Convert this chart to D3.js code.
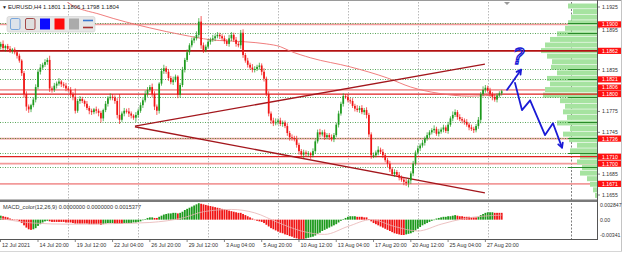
<!DOCTYPE html>
<html>
<head>
<meta charset="utf-8">
<script src="https://cdn.jsdelivr.net/npm/d3@7"></script>
<style>
body{margin:0;background:#fff;}
svg{display:block;font-family:"Liberation Sans",Arial,sans-serif;}
</style>
</head>
<body>
<div id="chart"></div>
<script>
// EURUSD H4 candles, 12 Jul 2021 00:00 .. 31 Aug 2021 00:00 (open of a bar = previous close)
var firstOpen = 1.1870;
var closes = [
 1.1868,1.1872,1.1866,1.1869,1.1865,1.1862,1.1864,1.1860,1.1855,
 1.1848,1.1830,1.1800,1.1782,
 1.1778,1.1784,1.1792,1.1810,
 1.1832,1.1838,1.1842,1.1846,1.1849,
 1.1808,
 1.1806,1.1812,1.1815,1.1818,1.1814,1.1812,1.1808,1.1806,1.1800,
 1.1796,1.1776,
 1.1790,1.1793,1.1790,1.1786,1.1780,1.1776,1.1774,1.1778,1.1776,1.1773,1.1765,
 1.1777,1.1786,1.1794,1.1796,1.1795,
 1.1790,1.1770,1.1763,1.1772,
 1.1776,1.1775,1.1772,1.1769,1.1766,1.1770,1.1776,
 1.1784,1.1791,1.1800,1.1806,1.1810,
 1.1800,1.1782,
 1.1776,
 1.1815,1.1833,1.1837,
 1.1832,1.1823,1.1817,1.1820,1.1825,
 1.1799,
 1.1813,1.1835,1.1849,1.1860,1.1870,1.1877,1.1880,1.1885,
 1.1904,
 1.1870,
 1.1863,1.1868,1.1875,1.1878,1.1880,1.1883,1.1885,1.1883,1.1880,1.1876,1.1872,1.1880,1.1885,1.1878,1.1872,1.1870,
 1.1888,
 1.1856,
 1.1848,1.1842,1.1838,1.1835,1.1836,1.1839,1.1841,1.1832,1.1822,
 1.1800,1.1772,1.1762,
 1.1758,1.1760,1.1762,1.1757,1.1759,1.1754,1.1744,
 1.1738,1.1737,1.1735,1.1727,1.1718,
 1.1713,1.1716,1.1714,1.1715,1.1712,1.1718,
 1.1732,1.1745,1.1742,1.1745,1.1738,1.1741,1.1738,1.1735,1.1741,
 1.1756,1.1772,1.1786,1.1797,1.1796,
 1.1791,1.1790,1.1783,1.1779,1.1777,1.1780,1.1774,1.1777,1.1770,
 1.1742,1.1712,
 1.1712,1.1716,1.1720,1.1717,1.1712,1.1705,1.1700,1.1692,
 1.1685,1.1688,1.1684,1.1680,1.1677,1.1674,1.1672,1.1676,1.1686,
 1.1700,1.1716,1.1722,1.1726,1.1730,1.1736,1.1741,1.1745,1.1748,
 1.1750,1.1743,1.1746,1.1749,1.1752,1.1747,1.1756,1.1765,1.1770,
 1.1774,1.1767,1.1764,1.1762,1.1760,1.1756,1.1752,1.1750,1.1748,1.1754,1.1763,
 1.1800,
 1.1806,1.1809,1.1805,1.1800,1.1796,1.1792,1.1798,1.1801,1.1804
];
// wick length above / below the body, in pips
var wickUp = [
 4,3,5,2,3,4,2,3,2,3, 2,3,4,3,2,3,4,3,5,3, 4,3,6,3,4,3,5,2,3,4, 3,4,3,12,3,4,3,2,4,3,
 3,2,4,3,3,2,4,3,5,4, 3,4,30,3,4,3,5,3,2,4, 3,4,3,5,4,3,5,4,3,2, 4,5,3,4,3,5,3,2,3,4,
 3,4,3,4,3,5,5,8,4,3, 4,3,5,3,4,3,3,4,3,5, 4,3,4,3,4,5,3,4,3,5, 4,3,4,3,5,3,4,3,4,5,
 3,4,3,3,4,3,4,3,5,3, 3,4,3,3,2,4,3,4,5,3, 4,3,3,4,3,3,4,3,4,3, 4,3,4,3,5,3,4,3,4,3,
 3,4,3,5,3,4,3,3,4,3, 4,3,4,3,3,4,3,3,4,3, 4,3,4,3,4,3,3,5,3,4, 3,4,3,4,3,5,4,3,4,3,
 3,4,3,4,3,3,4,3,5,4, 3,4,3,4,3,3,2
];
var wickDn = [
 3,4,3,5,4,3,4,3,4,3, 4,5,6,5,4,3,4,3,4,3, 3,4,5,4,3,4,3,4,3,4, 3,4,5,4,3,4,3,4,3,5,
 4,3,4,5,6,4,3,4,3,4, 4,5,6,3,4,3,5,4,3,6, 4,3,4,3,4,3,4,5,6,4, 3,4,3,4,3,4,3,5,4,3,
 4,3,4,3,4,3,4,5,4,3, 3,4,3,4,3,4,3,4,3,4, 4,3,4,3,5,4,3,4,3,4, 4,3,4,5,4,3,4,5,4,3,
 4,3,4,3,4,5,4,3,4,5, 4,5,3,4,5,3,4,3,4,3, 4,3,4,3,4,3,4,3,4,3, 3,4,3,4,3,4,3,4,5,4,
 5,4,3,4,3,4,3,5,4,3, 4,3,4,3,5,4,6,5,4,3, 3,4,3,4,3,4,3,4,3,4, 3,4,3,4,3,4,3,4,3,4,
 4,3,4,3,4,3,4,5,3,4, 3,4,5,3,4,3,3
];
// MACD_color histogram, units of 0.0001
var macdHist = [
 6,7,6,5,4, 2,1,0,-1, -3,-6,-10,-14, -17,-18,-17,-15, -11,-8,-5,-3,-2,
 -3,-4,-4,-4,-4,-4,-4,-5,-5,-5,-6,-7,
 -7,-7,-7,-7,-7,-8,-8,-8,-8,-8,-9,
 -8,-7,-6,-6,-6,-7,-7,-7,-7,-6,-6,
 -6,-6,-5,-5,-4, -3,-1,1,3,4, 4,3,3,
 5,7,9,10,11,11,12,12, 11,
 12,14,17,19,21,23,25,27, 29,28,
 27,26,25,24,23,22,21,20,19,18,17,16,15,14,13,12, 12,10,
 8,6,4,2,0,-2,-3,-4,-6, -9,-12,-15,
 -17,-19,-21,-23,-24,-26,-27, -29,-30,-32,-33,-34,
 -34,-34,-33,-32,-31,-30, -28,-25,-23,-20,-18,-16,-14,-12,-10,
 -8,-5,-2,1,3, 5,6,6,6,5,5,5,4,4, 1,-3,
 -6,-8,-10,-12,-14,-16,-18,-20, -22,-24,-25,-26,-27,-27,-26,-25,-24,
 -22,-19,-16,-13,-10,-8,-6,-4,-2, 0,2,3,4,5,5,6,6,7,
 8,7,6,6,5,5,5,4,4,4,5, 8, 10,12,13,13,13,12,12,12,12
];
// signal line read at a few bars [bar, value x 0.0001]
var macdSignal = [[0,3],[15,-6],[30,-8],[50,-7],[65,-5],[80,4],[88,14],[100,18],[110,12],[120,-5],
  [130,-20],[140,-26],[150,-12],[160,0],[170,-12],[180,-20],[190,-8],[200,2],[216,8]];
// moving average [bar, price]
var maPoints = [[28,1.1938],[30,1.1931],[44,1.1914],[65,1.1895],[79,1.1885],[91,1.1878],[106,1.1875],
  [115,1.1872],[121,1.1868],[125,1.1862],[134,1.1852],[151,1.1839],[167,1.1823],[177,1.1810],
  [189,1.1801],[202,1.1797],[216,1.1799]];
var timeBars = [0,17,33,49,65,81,97,113,129,145,161,177,193,209];
var timeLabels = ["12 Jul 2021","14 Jul 20:00","19 Jul 12:00","22 Jul 04:00","26 Jul 20:00","29 Jul 12:00",
  "3 Aug 04:00","5 Aug 20:00","10 Aug 12:00","13 Aug 04:00","17 Aug 20:00","20 Aug 12:00","25 Aug 04:00","27 Aug 20:00"];
var gridBars = [30,60,90,120,150,180,210];
var priceTicks = [1.1925,1.1895,1.1835,1.1775,1.1745,1.1685,1.1655];
var tagLevels = [1.1900,1.1862,1.1821,1.1806,1.1800,1.1736,1.1710,1.1700,1.1671];
var strongLevels = [1.1862,1.1800,1.1710];
var lightLevels = [1.1900,1.1806,1.1736,1.1700,1.1671];
var dotLevels = [1.1902,1.1888,1.1836,1.1822,1.1796,1.1760,1.1737,1.1715,1.1695];
var trendLines = [[58.6,1.1754,208.8,1.1843],[58.6,1.1753,208.8,1.1658]];
// volume profile, one value per 0.0008 bin from 1.1930 down
var profileTop = 1.1930, profileStep = 0.0008;
var profileVol = [29,24,26,29,32,40,47,52,56,50,45,46,40,50,47,52,54,37,32,34,30,40,27,34,28,20,27,17,20,15,17,10,7,4,2];
// hand drawn forecast [bar, price]
var arrowUp = [[218.3,1.1806],[224.3,1.1835]];
var arrowDown = [[221.7,1.1816],[224.7,1.1777],[228.2,1.1791],[234.6,1.1741],[238,1.1758],[241.9,1.1723]];
var questionAt = [223.2,1.1843];
var header = "EURUSD,H4  1.1801 1.1806 1.1798 1.1804";
var macdTitle = "MACD_color(12,26,9) 0.0000000 0.0000000 0.0015377";
var macdTicks = [[28.47,"0.002847"],[0,"0.00"],[-34.1,"-0.00341"]];

var width = 625, height = 256;
var plotRight = 597, plotTop = 2, plotBottom = 200;
var macdTop = 203, macdBottom = 239;
var green = "#1d9a1d", red = "#f01414";
var tagH = 6.2;

var svg = d3.select("#chart").append("svg")
	.attr("width", width)
	.attr("height", height);

var xScale = d3.scaleLinear().domain([0, 216]).range([-1.6, 501.7]);
var yScale = d3.scaleLinear().domain([1.1655, 1.1925]).range([195, 7]);
var mScale = d3.scaleLinear().domain([-34.1, 28.47]).range([239, 203.5]);
var vScale = d3.scaleLinear().domain([0, 56]).range([0, 56]);

var defs = svg.append("defs");
defs.append("clipPath").attr("id", "mainClip").append("rect")
	.attr("x", 0).attr("y", plotTop).attr("width", plotRight).attr("height", plotBottom - plotTop);
defs.append("clipPath").attr("id", "macdClip").append("rect")
	.attr("x", 0).attr("y", macdTop).attr("width", plotRight).attr("height", macdBottom - macdTop);

var main = svg.append("g").attr("clip-path", "url(#mainClip)");
var macd = svg.append("g").attr("clip-path", "url(#macdClip)");

// vertical grid (main + macd)
[[main, plotTop, plotBottom], [macd, macdTop, macdBottom]].forEach(function(p){
	p[0].selectAll(null).data(gridBars).enter().append("line")
		.attr("x1", function(d){ return Math.round(xScale(d)) + 0.5; })
		.attr("x2", function(d){ return Math.round(xScale(d)) + 0.5; })
		.attr("y1", p[1]).attr("y2", p[2])
		.attr("stroke", "#a8a8a8").attr("stroke-width", 0.8)
		.attr("stroke-dasharray", "1.5,1.5");
	p[0].append("line")
		.attr("x1", 571.5).attr("x2", 571.5).attr("y1", p[1]).attr("y2", p[2])
		.attr("stroke", "#707070").attr("stroke-width", 0.9)
		.attr("stroke-dasharray", "2,1.5");
});

// light red levels (under the profile)
main.selectAll(null).data(lightLevels).enter().append("line")
	.attr("x1", 0).attr("x2", plotRight)
	.attr("y1", function(d){ return yScale(d); })
	.attr("y2", function(d){ return yScale(d); })
	.attr("stroke", "#f29a9a").attr("stroke-width", 1.6);

// volume profile, right aligned to the price axis
main.selectAll(null).data(profileVol).enter().append("rect")
	.attr("x", function(d){ return plotRight - vScale(d); })
	.attr("y", function(d, k){ return yScale(profileTop - profileStep*k); })
	.attr("width", function(d){ return vScale(d); })
	.attr("height", function(d, k){ return yScale(profileTop - profileStep*(k+1)) - yScale(profileTop - profileStep*k) - 0.6; })
	.attr("fill", "#a6e3a0");

// green dotted levels, solid inside the profile zone
main.selectAll(null).data(dotLevels).enter().append("line")
	.attr("x1", 0).attr("x2", plotRight)
	.attr("y1", function(d){ return Math.round(yScale(d)) + 0.5; })
	.attr("y2", function(d){ return Math.round(yScale(d)) + 0.5; })
	.attr("stroke", "#2f8f2f").attr("stroke-width", 0.8)
	.attr("stroke-dasharray", "1,1.5");
main.selectAll(null).data(dotLevels).enter().append("line")
	.attr("x1", 568).attr("x2", plotRight)
	.attr("y1", function(d){ return Math.round(yScale(d)) + 0.5; })
	.attr("y2", function(d){ return Math.round(yScale(d)) + 0.5; })
	.attr("stroke", "#2a8a2a").attr("stroke-width", 1);

// strong red levels
main.selectAll(null).data(strongLevels).enter().append("line")
	.attr("x1", 0).attr("x2", plotRight)
	.attr("y1", function(d){ return yScale(d); })
	.attr("y2", function(d){ return yScale(d); })
	.attr("stroke", function(d, i){ return i == 0 ? "#b31212" : "#e02020"; })
	.attr("stroke-width", function(d, i){ return i == 0 ? 1.6 : 1.2; });

// moving average
main.append("path")
	.datum(maPoints)
	.attr("d", d3.line().curve(d3.curveMonotoneX)
		.x(function(d){ return xScale(d[0]); })
		.y(function(d){ return yScale(d[1]); }))
	.attr("fill", "none").attr("stroke", "#ee6f6f").attr("stroke-width", 0.9);

// trend lines
main.selectAll(null).data(trendLines).enter().append("line")
	.attr("x1", function(d){ return xScale(d[0]); })
	.attr("y1", function(d){ return yScale(d[1]); })
	.attr("x2", function(d){ return xScale(d[2]); })
	.attr("y2", function(d){ return yScale(d[3]); })
	.attr("stroke", "#a3161c").attr("stroke-width", 1.3);

// candles
var candles = closes.map(function(c, i){
	var o = i == 0 ? firstOpen : closes[i-1];
	return {i:i, o:o, c:c,
		h: Math.max(o, c) + wickUp[i]*0.0001,
		l: Math.min(o, c) - wickDn[i]*0.0001};
});
var cg = main.append("g");
cg.selectAll(null).data(candles).enter().append("line")
	.attr("x1", function(d){ return xScale(d.i); })
	.attr("x2", function(d){ return xScale(d.i); })
	.attr("y1", function(d){ return yScale(d.h); })
	.attr("y2", function(d){ return yScale(d.l); })
	.attr("stroke", function(d){ return d.c >= d.o ? green : red; })
	.attr("stroke-width", 0.7);
cg.selectAll(null).data(candles).enter().append("rect")
	.attr("x", function(d){ return xScale(d.i) - 0.85; })
	.attr("width", 1.7)
	.attr("y", function(d){ return yScale(Math.max(d.o, d.c)); })
	.attr("height", function(d){ return Math.max(1, Math.abs(yScale(d.o) - yScale(d.c))); })
	.attr("fill", function(d){ return d.c >= d.o ? green : red; });

// hand drawn forecast
var blue = "#1a1ad6";
var fline = d3.line().x(function(d){ return xScale(d[0]); }).y(function(d){ return yScale(d[1]); });
main.append("path").datum(arrowUp).attr("d", fline)
	.attr("fill", "none").attr("stroke", blue).attr("stroke-width", 1.8).attr("stroke-linecap", "round");
main.append("path").datum(arrowDown).attr("d", fline)
	.attr("fill", "none").attr("stroke", blue).attr("stroke-width", 1.8)
	.attr("stroke-linejoin", "round").attr("stroke-linecap", "round");
function arrowHead(pts){
	var a = pts[pts.length-2], b = pts[pts.length-1];
	var x1 = xScale(a[0]), y1 = yScale(a[1]), x2 = xScale(b[0]), y2 = yScale(b[1]);
	var ang = Math.atan2(y2 - y1, x2 - x1), len = 5;
	var p1 = [x2 - len*Math.cos(ang - 0.5), y2 - len*Math.sin(ang - 0.5)];
	var p2 = [x2 - len*Math.cos(ang + 0.5), y2 - len*Math.sin(ang + 0.5)];
	main.append("path")
		.attr("d", "M" + p1[0] + "," + p1[1] + "L" + x2 + "," + y2 + "L" + p2[0] + "," + p2[1])
		.attr("fill", "none").attr("stroke", blue).attr("stroke-width", 1.8)
		.attr("stroke-linecap", "round").attr("stroke-linejoin", "round");
}
arrowHead(arrowUp);
arrowHead(arrowDown);
main.append("text")
	.attr("x", xScale(questionAt[0])).attr("y", yScale(questionAt[1]))
	.attr("text-anchor", "middle")
	.attr("font-family", "DejaVu Sans")
	.attr("font-size", "22px").attr("font-style", "italic")
	.attr("fill", "none").attr("stroke", blue).attr("stroke-width", 1.4)
	.text("?");

// chart shift marker
svg.append("path").attr("d", "M504,2L510,2L507,5Z").attr("fill", "#9a9a9a");

// macd histogram
var prevColor = green;
var bars = macdHist.map(function(v, i){
	if(i > 0 && v > macdHist[i-1]) prevColor = green;
	else if(i > 0 && v < macdHist[i-1]) prevColor = red;
	return {i:i, v:v, col:prevColor};
});
macd.selectAll(null).data(bars).enter().append("rect")
	.attr("x", function(d){ return xScale(d.i) - 0.9; })
	.attr("width", 1.8)
	.attr("y", function(d){ return Math.min(mScale(d.v), mScale(0)); })
	.attr("height", function(d){ return Math.max(0.5, Math.abs(mScale(d.v) - mScale(0))); })
	.attr("fill", function(d){ return d.col; });
macd.append("path")
	.datum(macdSignal)
	.attr("d", d3.line().curve(d3.curveMonotoneX)
		.x(function(d){ return xScale(d[0]); })
		.y(function(d){ return mScale(d[1]); }))
	.attr("fill", "none").attr("stroke", "#e7b3b3").attr("stroke-width", 0.8);

// frames
svg.append("line").attr("x1", 0).attr("x2", 622).attr("y1", 0.5).attr("y2", 0.5).attr("stroke", "#9a9a9a");
svg.append("rect").attr("x", 0).attr("y", 199.5).attr("width", plotRight).attr("height", 2.5).attr("fill", "#7a7a7a");
svg.append("line").attr("x1", 0).attr("x2", plotRight + 1).attr("y1", macdBottom + 0.5).attr("y2", macdBottom + 0.5)
	.attr("stroke", "#555").attr("stroke-width", 1);
svg.append("line").attr("x1", plotRight + 0.5).attr("x2", plotRight + 0.5).attr("y1", 0).attr("y2", macdBottom + 1)
	.attr("stroke", "#555").attr("stroke-width", 1);
svg.append("line").attr("x1", 621.5).attr("x2", 621.5).attr("y1", 0).attr("y2", 252)
	.attr("stroke", "#c4c4c4").attr("stroke-width", 1);
svg.append("line").attr("x1", 0).attr("x2", 622).attr("y1", 251.5).attr("y2", 251.5)
	.attr("stroke", "#d6d6d6").attr("stroke-width", 1);

// red price tags, pushed apart upwards where they would collide
var tagPos = tagLevels.map(function(d){ return {p:d, y:yScale(d)}; });
for(var k = tagPos.length - 2; k >= 0; k--){
	if(tagPos[k].y > tagPos[k+1].y - tagH - 0.3) tagPos[k].y = tagPos[k+1].y - tagH - 0.3;
}

// price axis (a plain label gives way below a tag it would touch)
var axisG = svg.append("g").attr("font-size", "5.2px").attr("fill", "#333");
axisG.selectAll(null).data(priceTicks).enter().append("line")
	.attr("x1", plotRight).attr("x2", plotRight + 3)
	.attr("y1", function(d){ return yScale(d); }).attr("y2", function(d){ return yScale(d); })
	.attr("stroke", "#555").attr("stroke-width", 0.7);
axisG.selectAll(null).data(priceTicks).enter().append("text")
	.attr("x", 602)
	.attr("y", function(d){
		var y = yScale(d) + 2;
		tagPos.forEach(function(t){
			if(Math.abs(y - 2 - t.y) < tagH) y = t.y + tagH/2 + 4.6;
		});
		return y;
	})
	.text(function(d){ return d.toFixed(4); });
var tags = svg.append("g").selectAll(null).data(tagPos).enter().append("g")
	.attr("transform", function(d){ return "translate(598," + d.y + ")"; });
tags.append("rect").attr("x", 0).attr("y", -tagH/2).attr("width", 23).attr("height", tagH).attr("fill", "#ff1010");
tags.append("text").attr("x", 4).attr("y", 1.9)
	.attr("font-size", "5.2px").attr("fill", "#fff")
	.text(function(d){ return d.p.toFixed(4); });

// macd axis
var mAxis = svg.append("g").attr("font-size", "5.2px").attr("fill", "#333");
mAxis.selectAll(null).data(macdTicks).enter().append("text")
	.attr("x", 600).attr("y", function(d){ return Math.min(Math.max(mScale(d[0]) + 2, 207), 237); })
	.text(function(d){ return d[1]; });

// time axis
var tAxis = svg.append("g").attr("font-size", "5.4px").attr("fill", "#333");
tAxis.selectAll(null).data(timeBars).enter().append("line")
	.attr("x1", function(d){ return Math.max(0.5, xScale(d)); })
	.attr("x2", function(d){ return Math.max(0.5, xScale(d)); })
	.attr("y1", macdBottom).attr("y2", macdBottom + 3)
	.attr("stroke", "#555").attr("stroke-width", 0.7);
tAxis.selectAll(null).data(timeBars).enter().append("text")
	.attr("x", function(d){ return Math.max(2, xScale(d) + 1.5); })
	.attr("y", 247)
	.text(function(d, i){ return timeLabels[i]; });

// titles
svg.append("text").attr("x", 2).attr("y", 9).attr("font-size", "5px").attr("fill", "#222").text("\u25BC");
svg.append("text").attr("x", 8).attr("y", 9).attr("font-size", "5.8px").attr("fill", "#222").text(header);
svg.append("text").attr("x", 3).attr("y", 209).attr("font-size", "5.6px").attr("fill", "#333").text(macdTitle);

// toolbar
var tb = svg.append("g");
tb.append("rect").attr("x", 7).attr("y", 16.5).attr("width", 88).attr("height", 15.5).attr("rx", 2)
	.attr("fill", "#e6e6e6").attr("stroke", "#cfcfcf").attr("stroke-width", 0.6);
tb.append("rect").attr("x", 10.5).attr("y", 18.5).attr("width", 9.5).attr("height", 11).attr("rx", 1.5)
	.attr("fill", "#dde3ea").attr("stroke", "#7aa7dc").attr("stroke-width", 1);
tb.append("rect").attr("x", 25.5).attr("y", 18.5).attr("width", 9.5).attr("height", 11).attr("rx", 1.5)
	.attr("fill", "#dedede").attr("stroke", "#a34848").attr("stroke-width", 1);
tb.append("rect").attr("x", 40).attr("y", 18.5).attr("width", 10).attr("height", 11).attr("fill", "#0a0aff");
tb.append("rect").attr("x", 54.5).attr("y", 18.5).attr("width", 10).attr("height", 11).attr("fill", "#ff0a0a");
tb.append("rect").attr("x", 69).attr("y", 18.5).attr("width", 10).attr("height", 11).attr("fill", "#ababab");
tb.append("line").attr("x1", 83).attr("x2", 93).attr("y1", 20.5).attr("y2", 20.5).attr("stroke", "#3b78d0").attr("stroke-width", 1.6);
tb.append("line").attr("x1", 83).attr("x2", 93).attr("y1", 27.5).attr("y2", 27.5).attr("stroke", "#a83232").attr("stroke-width", 1.6);
</script>
</body>
</html>
